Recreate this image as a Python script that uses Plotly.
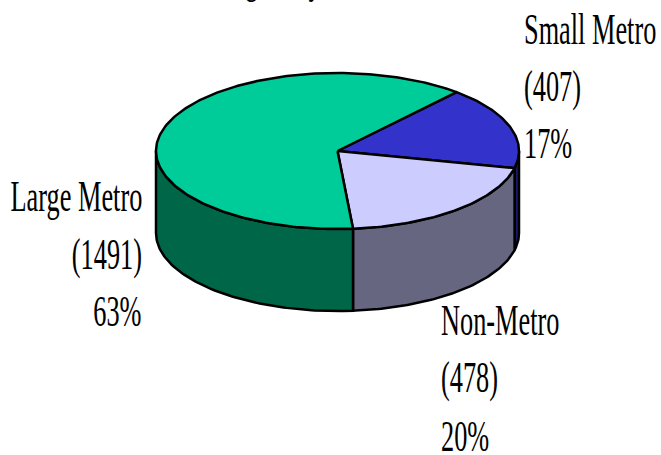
"""
3D style pie of counts by metro category, drawn with filled scatter traces.
"""

import numpy as np
import plotly.graph_objects as go

categories = ['Small Metro', 'Non-Metro', 'Large Metro']
counts = [407, 478, 1491]
percents = ['17%', '20%', '63%']
top_colors = ['#3333CC', '#CCCCFF', '#00CC99']
side_colors = ['#1A1A66', '#666680', '#006648']

# label blocks: left/right anchor and the vertical centre of each of the three lines
label_x = [522, 439, 144]
label_anchor = ['left', 'left', 'right']
label_y = [[29, 86, 143], [320, 377, 436], [196, 254, 311]]

# only the descenders of this line are on the page
title_text = 'Managers by Metro Area'

# ellipse of the pie top, in page pixels
cx, cy = 337.5, 151
rx, ry = 181.5, 78
depth = 82
start_angle = 49  # degrees, counter-clockwise from 3 o'clock; slices run clockwise

OUTLINE = dict(color='black', width=2.5)


def ellipse(t0, t1, drop=0):
    t = np.radians(np.linspace(t0, t1, max(int(abs(t1 - t0)), 2) + 1))
    return cx + rx * np.cos(t), cy - ry * np.sin(t) + drop


fig = go.Figure()

spans = 360 * np.array(counts) / sum(counts)
edges = start_angle - np.concatenate([[0], np.cumsum(spans)])

# Sides first, only where the slice is on the front half (angles -180..0)
for i in range(len(counts)):
    t0 = min(edges[i], 0)
    t1 = max(edges[i + 1], -180)
    if t0 <= t1:
        continue
    x_top, y_top = ellipse(t0, t1)
    x_low, y_low = ellipse(t1, t0, depth)
    fig.add_trace(go.Scatter(
        x=np.concatenate([x_top, x_low, x_top[:1]]),
        y=np.concatenate([y_top, y_low, y_top[:1]]),
        mode='lines', fill='toself', fillcolor=side_colors[i],
        line=OUTLINE, hoverinfo='skip'
    ))

# Then the slices on top
for i in range(len(counts)):
    x_arc, y_arc = ellipse(edges[i], edges[i + 1])
    fig.add_trace(go.Scatter(
        x=np.concatenate([[cx], x_arc, [cx]]),
        y=np.concatenate([[cy], y_arc, [cy]]),
        mode='lines', fill='toself', fillcolor=top_colors[i],
        line=OUTLINE, name=categories[i], hoverinfo='name'
    ))

FONT = dict(family='Liberation Serif', size=45, color='black')

for i, cat in enumerate(categories):
    lines = [cat, f'({counts[i]})', percents[i]]
    for line, y in zip(lines, label_y[i]):
        fig.add_annotation(x=label_x[i], y=y, text=line, showarrow=False,
                           xanchor=label_anchor[i], yanchor='middle', font=FONT)

# paper ref: a data-ref annotation above the axis range would be dropped
fig.add_annotation(x=183 / 661, y=1 + 22 / 455, xref='paper', yref='paper', text=title_text,
                   showarrow=False, xanchor='left', yanchor='middle', font=FONT)

fig.update_layout(
    width=661, height=455,
    margin=dict(l=0, r=0, t=0, b=0),
    paper_bgcolor='white', plot_bgcolor='white',
    showlegend=False,
    xaxis=dict(range=[0, 661], visible=False, fixedrange=True),
    yaxis=dict(range=[455, 0], visible=False, fixedrange=True),
)

# The original type is a squeezed Times; no condensed serif is installed
squeeze = """
document.body.style.margin = '0';
var gd = document.querySelector('.plotly-graph-div');
var s = 0.585;
gd.querySelectorAll('.annotation').forEach(function (g) {
    var ann = gd.layout.annotations[+g.getAttribute('data-index')];
    var el = g.querySelector('.annotation-text');
    var w = el.getBBox().width;
    var dx = ann.xanchor === 'left' ? -(1 - s) * w / 2 : (1 - s) * w / 2;
    el.style.transformBox = 'fill-box';
    el.style.transformOrigin = 'center center';
    el.style.transform = 'translateX(' + dx + 'px) scaleX(' + s + ')';
});
"""

fig.write_html("out.html", post_script=squeeze, config=dict(displayModeBar=False))
